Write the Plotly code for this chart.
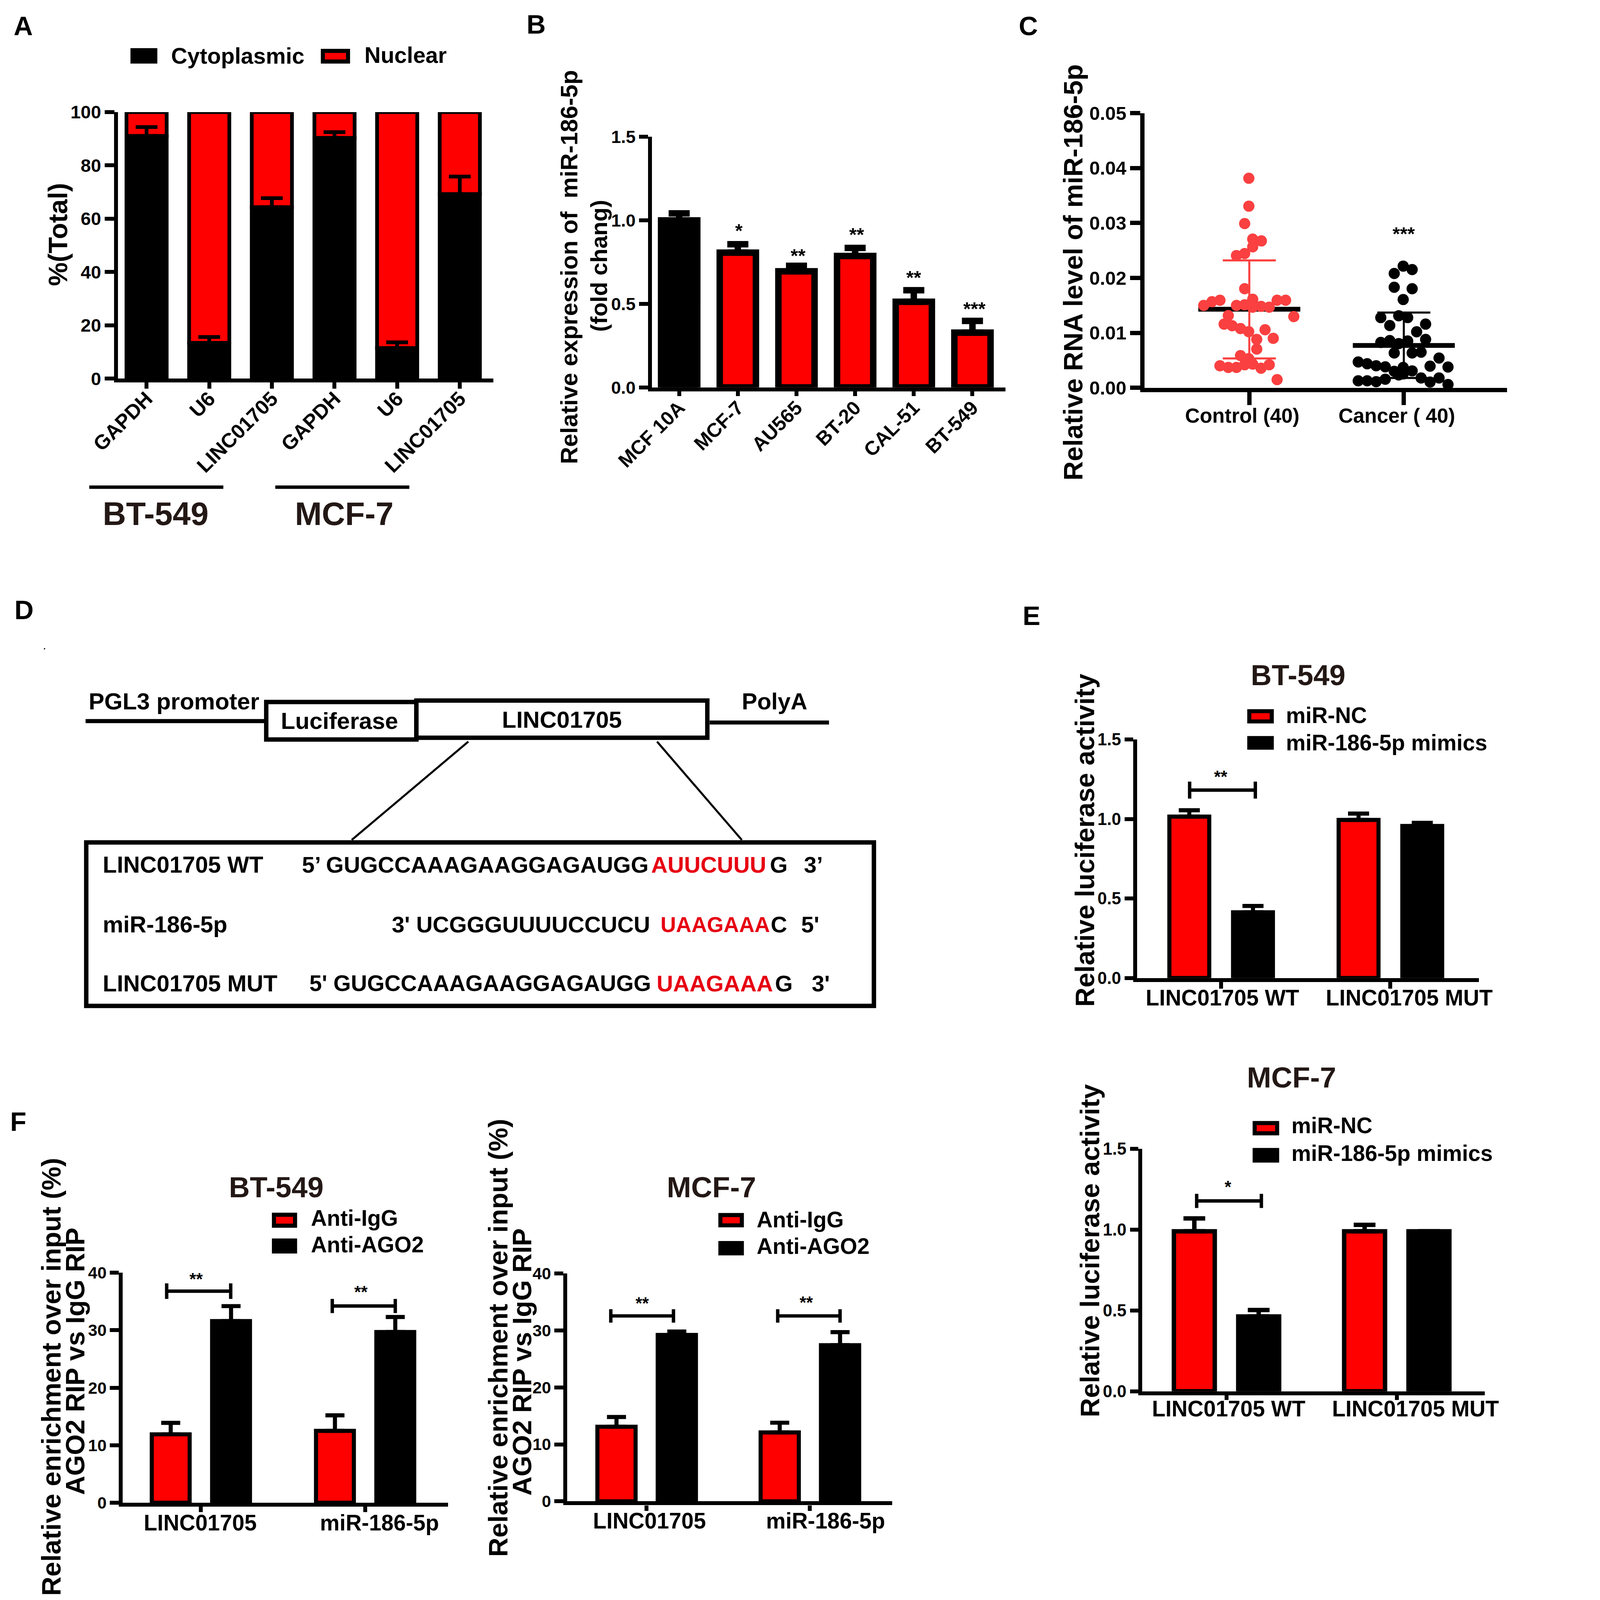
import plotly.graph_objects as go

W, H = 4755, 4504
FONT = 'Liberation Sans'
RED = '#FF0000'
DARK = '#231815'
# fonts and strokes are in screen px while the layout fills the window
K = 0.87
# rotated titles run along the taller direction of the window
K_ROT = 1.045

# Panel A
a_cats = ['GAPDH', 'U6', 'LINC01705', 'GAPDH', 'U6', 'LINC01705']
a_cyto = [91.0, 13.4, 64.3, 90.3, 11.4, 69.2]
a_cyto_err = [3.4, 2.2, 3.4, 2.2, 2.2, 6.6]
a_nuclear = [9.0, 86.6, 35.7, 9.7, 88.6, 30.8]

# Panel B
b_cats = ['MCF 10A', 'MCF-7', 'AU565', 'BT-20', 'CAL-51', 'BT-549']
b_vals = [1.0, 0.807, 0.695, 0.787, 0.513, 0.328]
b_errs = [0.042, 0.05, 0.033, 0.048, 0.069, 0.07]

# Panel C
c_cats = ['Control (40)', 'Cancer ( 40)']
control_offset = [-.003, -.003, -.03, .022, .078, .022, -.03, -.083, -.03, .022,
                  -.19, -.242, -.295, .18, .235, -.083, -.03, .022, .076, .129,
                  -.136, .288, -.163, -.111, -.057, -.004, .102, .048, .155, .048,
                  -.057, -.004, -.19, -.136, -.083, -.03, .022, .076, .129, .18]
control_vals = [.03815, .03307, .02989, .02707, .02674, .02567, .02444, .02407, .01804, .01611,
                .01593, .01567, .0150, .01593, .01593, .0150, .01511, .01467, .01481, .01467,
                .01315, .01296, .01159, .0113, .01078, .01022, .01056, .00881, .009, .00704,
                .00585, .0053, .004, .0037, .0037, .00419, .0043, .00356, .00419, .00148]
cancer_offset = [-.004, .054, -.062, -.062, .054, -.004, -.149, -.033, .025, -.091,
                 .141, .083, -.149, -.091, -.033, .025, .141, -.062, .054, .112,
                 -.295, -.237, -.179, -.12, .228, .17, .286, -.062, -.004, .054,
                 -.004, -.295, -.237, -.179, -.12, .112, .17, .228, .286, -.033]
cancer_vals = [.02215, .02152, .02081, .0183, .01804, .01607, .01278, .01311, .01278, .01133,
               .01159, .01019, .00826, .00859, .00804, .00852, .00881, .00633, .00633, .00648,
               .0047, .00437, .004, .00381, .00541, .00393, .00378, .003, .0037, .00307,
               .00252, .00126, .00126, .00111, .00156, .00178, .00104, .00178, .00059, .00233]
c_means = [.0143, .0077]
c_upper = [.02319, .0137]
c_lower = [.00533, .00178]

# Panel E
e_cats = ['LINC01705 WT', 'LINC01705 MUT']
e1_nc = [1.015, 0.994]
e1_nc_err = [0.04, 0.04]
e1_mim = [0.413, 0.956]
e1_mim_err = [0.04, 0.02]
e2_nc = [0.99, 0.99]
e2_nc_err = [0.08, 0.04]
e2_mim = [0.463, 0.99]
e2_mim_err = [0.04, 0.0]

# Panel F
f_cats = ['LINC01705', 'miR-186-5p']
f1_igg = [11.9, 12.5]
f1_igg_err = [2.0, 2.7]
f1_ago = [31.6, 29.7]
f1_ago_err = [2.6, 2.6]
f2_igg = [13.1, 12.1]
f2_igg_err = [1.7, 1.7]
f2_ago = [29.2, 27.4]
f2_ago_err = [0.6, 2.3]


def px(x):
    return x / W


def py(y):
    return 1 - y / H


fig = go.Figure()
annotations = []
shapes = []


def text(x, y, s, size=65, color='black', angle=0, anchor='center'):
    font_size = size * K * (K_ROT if angle else 1)
    annotations.append(dict(xref='paper', yref='paper', x=px(x), y=py(y), text=s, showarrow=False,
                            xanchor=anchor, yanchor='middle', textangle=angle, borderpad=0,
                            font=dict(family=FONT, size=font_size, color=color, weight=700)))


def line(x0, y0, x1, y1, width=10):
    shapes.append(dict(type='line', xref='paper', yref='paper', x0=px(x0), y0=py(y0), x1=px(x1), y1=py(y1),
                       line=dict(color='black', width=width * K)))


def box(x0, y0, x1, y1, fill='white', width=13):
    shapes.append(dict(type='rect', xref='paper', yref='paper', x0=px(x0), y0=py(y0), x1=px(x1), y1=py(y1),
                       fillcolor=fill, line=dict(color='black', width=width * K)))


def bracket(x0, x1, y, h=22):
    line(x0, y, x1, y, 10)
    line(x0, y - h, x0, y + h, 10)
    line(x1, y - h, x1, y + h, 10)


def swatch(x0, y0, x1, y1, fill):
    # outer edges given, stroke is centred on the path
    box(x0 + 6, y0 + 6, x1 - 6, y1 - 6, fill=fill, width=12)


def axes(n, left, right, top, bottom, c0, step, ymax, yticks, ytext, xlabels=None, tick_size=52,
         x_size=60, angle=0, lw=12, ylen=26, xlen=18, **xkw):
    xrange = [(left - c0) / step, (right - c0) / step]
    fig.update_layout({
        f'xaxis{n}': dict(domain=[px(left), px(right)], anchor=f'y{n}', range=xrange, showgrid=False,
                          zeroline=False, showline=True, linewidth=lw * K, linecolor='black', automargin=False,
                          ticks='outside', ticklen=xlen * K, tickwidth=lw * K, tickcolor='black',
                          tickmode='array', tickvals=list(range(len(xlabels))) if xlabels else [0, 1],
                          ticktext=xlabels if xlabels else ['', ''], tickangle=angle,
                          showticklabels=bool(xlabels),
                          tickfont=dict(family=FONT, size=x_size * K, color='black', weight=700), **xkw),
        f'yaxis{n}': dict(domain=[py(bottom), py(top)], anchor=f'x{n}', range=[0, ymax], showgrid=False,
                          zeroline=False, showline=True, linewidth=lw * K, linecolor='black', automargin=False,
                          ticks='outside', ticklen=ylen * K, tickwidth=lw * K, tickcolor='black',
                          tickmode='array', tickvals=yticks, ticktext=ytext,
                          tickfont=dict(family=FONT, size=tick_size * K, color='black', weight=700)),
    })


def bars(n, x, y, err, fill, width, lw, cap, base=None, offset=None, name=None):
    error = None
    if err is not None:
        error = dict(type='data', array=err, arrayminus=[0] * len(err), symmetric=False,
                     color='black', thickness=lw * K, width=cap * K)
    fig.add_trace(go.Bar(x=x, y=y, base=base, width=width, offset=offset, name=name, xaxis=f'x{n}', yaxis=f'y{n}',
                         marker=dict(color=fill, line=dict(color='black', width=lw * K)),
                         error_y=error, cliponaxis=False, showlegend=False))


def grouped(n, y1, e1, y2, e2, step, half_gap, outer, lw, cap, names):
    w = (outer - lw) / step
    d = half_gap / step
    bars(n, [0, 1], y1, e1, RED, w, lw, cap, offset=-d - w / 2, name=names[0])
    bars(n, [0, 1], y2, e2, 'black', w, lw, cap, offset=d - w / 2, name=names[1])


# A
axes(1, 343, 1463, 308, 1061, 428, 186.9, 100, [0, 20, 40, 60, 80, 100], ['0', '20', '40', '60', '80', '100'],
     a_cats, tick_size=54, x_size=60, angle=-45, lw=11, ylen=28, xlen=18, ticklabelstandoff=-25)
bars(1, list(range(6)), a_nuclear, None, RED, 120 / 186.9, 11, 32, base=a_cyto, name='Nuclear')
bars(1, list(range(6)), a_cyto, a_cyto_err, 'black', 120 / 186.9, 11, 32, name='Cytoplasmic')
text(164, 654, '%(Total)', 75, angle=-90)
swatch(380, 127, 460, 171, 'black')
swatch(948, 129, 1035, 171, RED)
text(500, 149, 'Cytoplasmic', 66, anchor='left')
text(1077, 147, 'Nuclear', 66, anchor='left')
line(257, 1368, 657, 1368, 10)
line(812, 1368, 1212, 1368, 10)
text(455, 1443, 'BT-549', 95, DARK)
text(1017, 1443, 'MCF-7', 95, DARK)

# B
axes(2, 1936, 2990, 378, 1086, 2017, 175, 1.5, [0, 0.5, 1, 1.5], ['0.0', '0.5', '1.0', '1.5'],
     b_cats, tick_size=52, x_size=58, angle=-45, lw=12, ylen=26, xlen=14, ticklabelstandoff=-20)
bars(2, [0], b_vals[:1], b_errs[:1], 'black', 108 / 175, 19, 31)
bars(2, [1, 2, 3, 4, 5], b_vals[1:], b_errs[1:], RED, 108 / 175, 19, 31)
text(1689, 746, 'Relative expression of&nbsp;&nbsp;miR-186-5p', 67, angle=-90)
text(1779, 742, '(fold chang)', 65, angle=-90)
text(2195, 643, '*', 56)
text(2372, 713, '**', 56)
text(2547, 653, '**', 56)
text(2717, 775, '**', 56)
text(2898, 863, '***', 56)

# C
axes(3, 3406, 4487, 311, 1087, 3718, 461, 0.05, [0, .01, .02, .03, .04, .05],
     ['0.00', '0.01', '0.02', '0.03', '0.04', '0.05'], c_cats, tick_size=56, x_size=60, lw=13, ylen=30, xlen=38,
     ticklabelshift=-18, ticklabelstandoff=-18)
for i, col in enumerate(['#FA4040', 'black']):
    fig.add_trace(go.Scatter(x=[i - 0.33, i + 0.33], y=[c_means[i]] * 2, mode='lines', xaxis='x3', yaxis='y3',
                             line=dict(color='black', width=14 * K), showlegend=False, cliponaxis=False))
    fig.add_trace(go.Scatter(x=[i], y=[c_means[i]], mode='markers', xaxis='x3', yaxis='y3', marker=dict(opacity=0),
                             error_y=dict(type='data', array=[c_upper[i] - c_means[i]],
                                          arrayminus=[c_means[i] - c_lower[i]], symmetric=False,
                                          color=col, thickness=6 * K, width=78 * K),
                             showlegend=False, cliponaxis=False))
fig.add_trace(go.Scatter(x=[0 + o for o in control_offset], y=control_vals, mode='markers', name='Control',
                         xaxis='x3', yaxis='y3', marker=dict(color='#FA4040', size=33 * K), showlegend=False,
                         cliponaxis=False))
fig.add_trace(go.Scatter(x=[1 + o for o in cancer_offset], y=cancer_vals, mode='markers', name='Cancer',
                         xaxis='x3', yaxis='y3', marker=dict(color='black', size=33 * K), showlegend=False,
                         cliponaxis=False))
text(3193, 761, 'Relative RNA level of miR-186-5p', 75, angle=-90)
text(4179, 651, '***', 56)

# D diagram
line(246, 2029, 783, 2029, 12)
line(2108, 2033, 2464, 2033, 12)
box(785, 1975, 1233, 2081)
box(1233, 1971, 2101, 2076)
line(1388, 2087, 1040, 2365, 6)
line(1951, 2087, 2204, 2365, 6)
box(248, 2372, 2598, 2834)
line(122, 1826, 125, 1823, 3)
text(510, 1973, 'PGL3 promoter', 69)
text(1004, 2029, 'Luciferase', 69)
text(1667, 2025, 'LINC01705', 69)
text(2302, 1973, 'PolyA', 68)
seq_rows = [
    (2435, 'LINC01705 WT', [(890, "5’ GUGCCAAAGAAGGAGAUGG", 'black', 67), (1932, 'AUUCUUU', '#E60012', 67),
                            (2287, 'G', 'black', 67), (2388, "3’", 'black', 67)]),
    (2604, 'miR-186-5p', [(1159, "3' UCGGGUUUUCCUCU", 'black', 67), (1960, 'UAAGAAA', '#E60012', 63),
                          (2289, 'C', 'black', 67), (2380, "5'", 'black', 67)]),
    (2770, 'LINC01705 MUT', [(913, "5' GUGCCAAAGAAGGAGAUGG", 'black', 66), (1949, 'UAAGAAA', '#E60012', 67),
                             (2302, 'G', 'black', 67), (2411, "3'", 'black', 67)]),
]
for y, label, parts in seq_rows:
    text(296, y, label, 68, anchor='left')
    for x, s, col, size in parts:
        text(x, y, s, size, col, anchor='left')

# E top
axes(4, 3383, 4403, 2081, 2755, 3634, 505, 1.5, [0, 0.5, 1, 1.5], ['0.0', '0.5', '1.0', '1.5'],
     tick_size=50, lw=12, ylen=25, xlen=20)
grouped(4, e1_nc, e1_nc_err, e1_mim, e1_mim_err, 505, 95, 131, 12, 31, ['miR-NC', 'miR-186-5p mimics'])
text(3638, 2811, e_cats[0], 65)
text(4195, 2811, e_cats[1], 65)
text(3863, 1899, 'BT-549', 85, DARK)
swatch(3712, 1995, 3791, 2036, RED)
swatch(3712, 2071, 3791, 2110, 'black')
text(3826, 2013, 'miR-NC', 65, anchor='left')
text(3826, 2090, 'miR-186-5p mimics', 65, anchor='left')
text(3227, 2365, 'Relative luciferase activity', 75, angle=-90)
bracket(3540, 3736, 2224, 24)
text(3633, 2187, '**', 50)

# E bottom
axes(5, 3399, 4421, 3238, 3923, 3650, 508, 1.5, [0, 0.5, 1, 1.5], ['0.0', '0.5', '1.0', '1.5'],
     tick_size=50, lw=12, ylen=25, xlen=14)
grouped(5, e2_nc, e2_nc_err, e2_mim, e2_mim_err, 508, 96, 135, 13, 32, ['miR-NC', 'miR-186-5p mimics'])
text(3656, 3973, e_cats[0], 65)
text(4214, 3973, e_cats[1], 65)
text(3844, 3036, 'MCF-7', 86, DARK)
swatch(3728, 3159, 3807, 3200, RED)
swatch(3728, 3235, 3807, 3277, 'black')
text(3842, 3172, 'miR-NC', 65, anchor='left')
text(3842, 3250, 'miR-186-5p mimics', 65, anchor='left')
text(3242, 3525, 'Relative luciferase activity', 75, angle=-90)
bracket(3561, 3754, 3385, 20)
text(3654, 3346, '*', 50)

# F left
axes(6, 357, 1328, 3588, 4238, 590, 490, 40, [0, 10, 20, 30, 40], ['0', '10', '20', '30', '40'],
     tick_size=49, lw=12, ylen=26, xlen=16)
grouped(6, f1_igg, f1_igg_err, f1_ago, f1_ago_err, 490, 90, 125, 12, 28, ['Anti-IgG', 'Anti-AGO2'])
text(588, 4295, f_cats[0], 65)
text(1123, 4295, f_cats[1], 65)
text(815, 3346, 'BT-549', 85, DARK)
swatch(802, 3418, 877, 3461, RED)
swatch(802, 3491, 877, 3534, 'black')
text(917, 3434, 'Anti-IgG', 65, anchor='left')
text(917, 3509, 'Anti-AGO2', 65, anchor='left')
text(143, 3882, 'Relative enrichment over input (%)', 75, angle=-90)
text(214, 3839, 'AGO2 RIP vs IgG RIP', 75, angle=-90)
bracket(488, 679, 3640, 22)
text(576, 3606, '**', 50)
bracket(982, 1170, 3682, 20)
text(1067, 3643, '**', 50)

# F right
axes(7, 1683, 2652, 3590, 4234, 1920, 487, 40, [0, 10, 20, 30, 40], ['0', '10', '20', '30', '40'],
     tick_size=49, lw=12, ylen=26, xlen=16)
grouped(7, f2_igg, f2_igg_err, f2_ago, f2_ago_err, 487, 90, 126, 12, 28, ['Anti-IgG', 'Anti-AGO2'])
text(1928, 4289, f_cats[0], 65)
text(2454, 4289, f_cats[1], 65)
text(2113, 3346, 'MCF-7', 86, DARK)
swatch(2134, 3419, 2210, 3460, RED)
swatch(2134, 3498, 2210, 3539, 'black')
text(2247, 3438, 'Anti-IgG', 65, anchor='left')
text(2247, 3513, 'Anti-AGO2', 65, anchor='left')
text(1476, 3772, 'Relative enrichment over input (%)', 75, angle=-90)
text(1547, 3840, 'AGO2 RIP vs IgG RIP', 75, angle=-90)
bracket(1813, 2000, 3710, 19)
text(1907, 3675, '**', 50)
bracket(2311, 2497, 3710, 19)
text(2396, 3673, '**', 50)

# panel letters
for letter, x, y in [('A', 60, 65), ('B', 1590, 60), ('C', 3059, 65), ('D', 62, 1715), ('E', 3068, 1732), ('F', 45, 3161)]:
    text(x, y, letter, 78)

# no fixed width/height: the page fills the browser window
fig.update_layout(margin=dict(l=0, r=0, t=0, b=0), barmode='overlay',
                  plot_bgcolor='white', paper_bgcolor='white', showlegend=False,
                  annotations=annotations, shapes=shapes)

fig.write_html("out.html")
